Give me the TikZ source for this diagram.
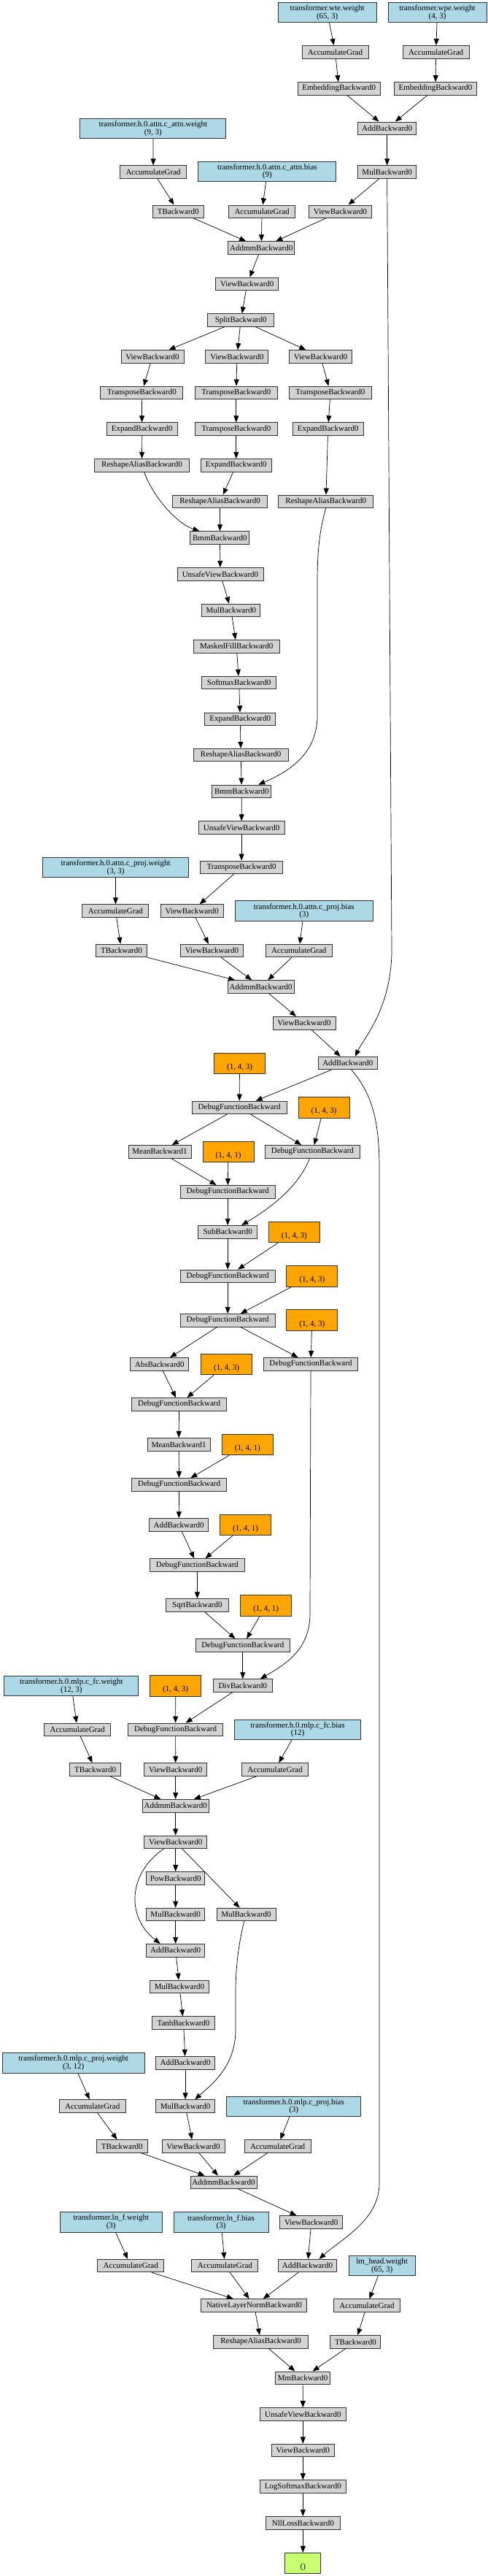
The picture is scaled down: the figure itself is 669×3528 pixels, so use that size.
\documentclass[tikz,border=0pt]{standalone}
\usepackage{fontspec}
\setmainfont{Liberation Serif}
\usepackage{xcolor}
\usepackage{tikz}
\usetikzlibrary{arrows.meta,calc}

\definecolor{opgray}{RGB}{211,211,211}
\definecolor{parblue}{RGB}{173,216,230}
\definecolor{savorange}{RGB}{255,165,0}
\definecolor{resgreen}{RGB}{202,255,112}

\begin{document}
\begin{tikzpicture}[x=1pt, y=-1pt,
    op/.style={draw=black!80, line width=0.9pt, fill=opgray, minimum height=17.5pt, inner sep=0pt, font=\fontsize{11}{10}\selectfont},
    param/.style={op, fill=parblue, minimum height=27.5pt, align=center},
    saved/.style={op, fill=savorange, minimum width=70pt, minimum height=28.5pt, align=center},
    result/.style={op, fill=resgreen, minimum width=49pt, minimum height=28pt, align=center},
    wd/.style={minimum width=#1pt},
    edge/.style={-{Triangle[length=9pt,width=7pt]}, line width=0.7pt}]
    \useasboundingbox[fill=white] (0,0) rectangle (669,3528);

    % Embeddings
    \node[param, wd=135] (wte) at (448.7,17) {transformer.wte.weight\\(65, 3)};
    \node[param, wd=135] (wpe) at (599.5,17) {transformer.wpe.weight\\(4, 3)};
    \node[op, wd=91] (accwte) at (459.5,71.3) {AccumulateGrad};
    \node[op, wd=91] (accwpe) at (597.6,71.3) {AccumulateGrad};
    \node[op, wd=113] (emba) at (464.7,121.3) {EmbeddingBackward0};
    \node[op, wd=113] (embb) at (597,121.3) {EmbeddingBackward0};
    \node[op, wd=80] (add0) at (530.7,175.7) {AddBackward0};
    \node[op, wd=80] (mul0) at (530.7,235.5) {MulBackward0};

    % Attention: c_attn
    \node[param, wd=200] (cattnw) at (209.9,175.8) {transformer.h.0.attn.c\_attn.weight\\(9, 3)};
    \node[op, wd=91] (acccattnw) at (210.1,235.5) {AccumulateGrad};
    \node[param, wd=189] (cattnb) at (366.4,235) {transformer.h.0.attn.c\_attn.bias\\(9)};
    \node[op, wd=70] (tb1) at (244.3,289.7) {TBackward0};
    \node[op, wd=91] (acccattnb) at (359.1,289.7) {AccumulateGrad};
    \node[op, wd=86] (view1) at (466.6,289.7) {ViewBackward0};
    \node[op, wd=91] (addmm1) at (358.2,339.5) {AddmmBackward0};
    \node[op, wd=86] (view2) at (338.8,388.8) {ViewBackward0};
    \node[op, wd=91] (split) at (330.2,438.5) {SplitBackward0};
    \node[op, wd=86] (viewa) at (209,488.3) {ViewBackward0};
    \node[op, wd=86] (viewb) at (324.9,488.3) {ViewBackward0};
    \node[op, wd=86] (viewc) at (439.4,488.3) {ViewBackward0};
    \node[op, wd=113] (transa) at (194.3,537.8) {TransposeBackward0};
    \node[op, wd=113] (transb) at (323.8,537.8) {TransposeBackward0};
    \node[op, wd=113] (transc) at (452.9,537.8) {TransposeBackward0};
    \node[op, wd=97] (expa) at (194.7,587.5) {ExpandBackward0};
    \node[op, wd=113] (transd) at (323.8,587.5) {TransposeBackward0};
    \node[op, wd=97] (expc) at (449.7,587.5) {ExpandBackward0};
    \node[op, wd=130] (resha) at (194.5,637.2) {ReshapeAliasBackward0};
    \node[op, wd=97] (expb) at (323.8,637.2) {ExpandBackward0};
    \node[op, wd=130] (reshb) at (301.6,686.8) {ReshapeAliasBackward0};
    \node[op, wd=130] (reshc) at (446.7,686.8) {ReshapeAliasBackward0};
    \node[op, wd=81] (bmma) at (301.4,736.5) {BmmBackward0};
    \node[op, wd=118] (unsafea) at (302,786.2) {UnsafeViewBackward0};
    \node[op, wd=80] (mul1) at (316.8,835.8) {MulBackward0};
    \node[op, wd=118] (masked) at (324.2,885.2) {MaskedFillBackward0};
    \node[op, wd=102] (softmax) at (327.6,935) {SoftmaxBackward0};
    \node[op, wd=97] (expd) at (329.3,984.7) {ExpandBackward0};
    \node[op, wd=130] (reshd) at (330.2,1034) {ReshapeAliasBackward0};
    \node[op, wd=81] (bmmb) at (331.3,1083.8) {BmmBackward0};
    \node[op, wd=118] (unsafeb) at (331.1,1133.5) {UnsafeViewBackward0};
    \node[op, wd=113] (transe) at (331.1,1187.8) {TransposeBackward0};

    % Attention: c_proj
    \node[param, wd=200] (cprojw) at (158.6,1188) {transformer.h.0.attn.c\_proj.weight\\(3, 3)};
    \node[op, wd=91] (acccprojw) at (158.4,1247.5) {AccumulateGrad};
    \node[op, wd=86] (view3) at (263.3,1247.5) {ViewBackward0};
    \node[param, wd=189] (cprojb) at (416.8,1247.5) {transformer.h.0.attn.c\_proj.bias\\(3)};
    \node[op, wd=70] (tb2) at (166.5,1302) {TBackward0};
    \node[op, wd=86] (view4) at (290.5,1302) {ViewBackward0};
    \node[op, wd=91] (acccprojb) at (409.7,1302) {AccumulateGrad};
    \node[op, wd=91] (addmm2) at (357.6,1351.5) {AddmmBackward0};
    \node[op, wd=86] (view5) at (417,1401.2) {ViewBackward0};
    \node[op, wd=81] (add1) at (476.8,1456) {AddBackward0};

    % Layer norm
    \node[saved] (sv1) at (328.5,1456.3) {\strut\\(1, 4, 3)};
    \node[op, wd=129.5] (dfb1) at (328.2,1516.8) {DebugFunctionBackward};
    \node[saved] (sv2) at (444,1516.7) {\strut\\(1, 4, 3)};
    \node[op, wd=86] (mean1) at (219,1577.2) {MeanBackward1};
    \node[saved] (sv3) at (313,1577.5) {\strut\\(1, 4, 1)};
    \node[op, wd=129.5] (dfb2) at (428.4,1577.2) {DebugFunctionBackward};
    \node[op, wd=129.5] (dfb3) at (312.2,1632.2) {DebugFunctionBackward};
    \node[op, wd=81] (sub) at (312.2,1687.2) {SubBackward0};
    \node[saved] (sv4) at (403.4,1687.5) {\strut\\(1, 4, 3)};
    \node[op, wd=129.5] (dfb4) at (312.2,1747.7) {DebugFunctionBackward};
    \node[saved] (sv5) at (427.9,1747.7) {\strut\\(1, 4, 3)};
    \node[op, wd=129.5] (dfb5) at (312.2,1808.2) {DebugFunctionBackward};
    \node[saved] (sv6) at (427.9,1808) {\strut\\(1, 4, 3)};
    \node[op, wd=80] (abs) at (218.8,1868.3) {AbsBackward0};
    \node[saved] (sv7) at (310.5,1868.5) {\strut\\(1, 4, 3)};
    \node[op, wd=129.5] (dfb6) at (426,1868.3) {DebugFunctionBackward};
    \node[op, wd=129.5] (dfb7) at (245.6,1923.3) {DebugFunctionBackward};
    \node[op, wd=86] (mean2) at (245.1,1978.3) {MeanBackward1};
    \node[saved] (sv8) at (339.4,1978.5) {\strut\\(1, 4, 1)};
    \node[op, wd=129.5] (dfb8) at (245.6,2033.3) {DebugFunctionBackward};
    \node[op, wd=81] (add2) at (245.2,2088.5) {AddBackward0};
    \node[saved] (sv9) at (336.6,2088.5) {\strut\\(1, 4, 1)};
    \node[op, wd=129.5] (dfb9) at (270.4,2143.5) {DebugFunctionBackward};
    \node[op, wd=86] (sqrt) at (270.4,2198.5) {SqrtBackward0};
    \node[saved] (sv10) at (364.6,2198.7) {\strut\\(1, 4, 1)};
    \node[op, wd=129.5] (dfb10) at (332.8,2253.5) {DebugFunctionBackward};
    \node[op, wd=81] (div) at (332.8,2308.5) {DivBackward0};

    % MLP
    \node[param, wd=184] (fcw) at (97.9,2308.8) {transformer.h.0.mlp.c\_fc.weight\\(12, 3)};
    \node[saved] (sv11) at (240.7,2308.7) {\strut\\(1, 4, 3)};
    \node[op, wd=91] (accfcw) at (106.2,2368.8) {AccumulateGrad};
    \node[op, wd=129.5] (dfb11) at (240.6,2368.8) {DebugFunctionBackward};
    \node[param, wd=173] (fcb) at (408,2368.8) {transformer.h.0.mlp.c\_fc.bias\\(12)};
    \node[op, wd=70] (tb3) at (130.6,2423.5) {TBackward0};
    \node[op, wd=86] (view6) at (240.7,2423.5) {ViewBackward0};
    \node[op, wd=91] (accfcb) at (377,2423.5) {AccumulateGrad};
    \node[op, wd=91] (addmm3) at (240.7,2473.2) {AddmmBackward0};
    \node[op, wd=86] (view7) at (240.7,2522.7) {ViewBackward0};
    \node[op, wd=80] (pow) at (240.7,2572.3) {PowBackward0};
    \node[op, wd=80] (mul2) at (240.7,2622) {MulBackward0};
    \node[op, wd=81] (mul3) at (337.5,2622) {MulBackward0};
    \node[op, wd=80] (add3) at (240.7,2671.2) {AddBackward0};
    \node[op, wd=81] (mul4) at (246,2720.8) {MulBackward0};
    \node[op, wd=86] (tanh) at (251.5,2770.5) {TanhBackward0};
    \node[op, wd=81] (add4) at (254.1,2825.2) {AddBackward0};
    \node[param, wd=194.5] (mpw) at (100.7,2825.2) {transformer.h.0.mlp.c\_proj.weight\\(3, 12)};
    \node[op, wd=91] (accmpw) at (126.7,2884.5) {AccumulateGrad};
    \node[op, wd=81] (mul5) at (254.1,2884.5) {MulBackward0};
    \node[param, wd=184] (mpb) at (402.7,2884.8) {transformer.h.0.mlp.c\_proj.bias\\(3)};
    \node[op, wd=70] (tb4) at (167.3,2939.3) {TBackward0};
    \node[op, wd=86] (view8) at (265,2939.3) {ViewBackward0};
    \node[op, wd=91] (accmpb) at (380.6,2939.3) {AccumulateGrad};
    \node[op, wd=91] (addmm4) at (306.5,2988.8) {AddmmBackward0};

    % Final layer norm and head
    \node[param, wd=140] (lnfw) at (152.2,3043.3) {transformer.ln\_f.weight\\(3)};
    \node[param, wd=130] (lnfb) at (303,3043.3) {transformer.ln\_f.bias\\(3)};
    \node[op, wd=86] (view9) at (426.8,3043.5) {ViewBackward0};
    \node[op, wd=91] (acclnfw) at (179.3,3103) {AccumulateGrad};
    \node[op, wd=91] (acclnfb) at (308.4,3103) {AccumulateGrad};
    \node[op, wd=80] (add5) at (421.5,3103) {AddBackward0};
    \node[param, wd=91] (lmw) at (523.7,3103) {lm\_head.weight\\(65, 3)};
    \node[op, wd=145] (nln) at (348.4,3157.5) {NativeLayerNormBackward0};
    \node[op, wd=91] (acclm) at (503,3157.5) {AccumulateGrad};
    \node[op, wd=130] (reshe) at (357.6,3207.2) {ReshapeAliasBackward0};
    \node[op, wd=69] (tb5) at (487.4,3207.2) {TBackward0};
    \node[op, wd=75] (mm) at (415.1,3256.7) {MmBackward0};
    \node[op, wd=118] (unsafec) at (415.3,3306.3) {UnsafeViewBackward0};
    \node[op, wd=86] (view10) at (415.3,3355.8) {ViewBackward0};
    \node[op, wd=118] (logsm) at (415.3,3405.5) {LogSoftmaxBackward0};
    \node[op, wd=102] (nll) at (415.3,3455.2) {NllLossBackward0};
    \node[result] (out) at (415.3,3510.3) {\strut\\()};

    % Edges: embeddings and attention
    \draw[edge] (wte) -- (accwte);
    \draw[edge] (wpe) -- (accwpe);
    \draw[edge] (accwte) -- (emba);
    \draw[edge] (accwpe) -- (embb);
    \draw[edge] (emba) -- (add0);
    \draw[edge] (embb) -- (add0);
    \draw[edge] (add0) -- (mul0);
    \draw[edge] (mul0) -- (view1);
    \draw[edge] (mul0.south) -- (537,1300) .. controls (537,1380) and (500,1420) .. ([xshift=10pt]add1.north);
    \draw[edge] (cattnw) -- (acccattnw);
    \draw[edge] (acccattnw) -- (tb1);
    \draw[edge] (cattnb) -- (acccattnb);
    \draw[edge] (tb1) -- (addmm1);
    \draw[edge] (acccattnb) -- (addmm1);
    \draw[edge] (view1) -- (addmm1);
    \draw[edge] (addmm1) -- (view2);
    \draw[edge] (view2) -- (split);
    \draw[edge] (split) -- (viewa);
    \draw[edge] (split) -- (viewb);
    \draw[edge] (split) -- (viewc);
    \draw[edge] (viewa) -- (transa);
    \draw[edge] (viewb) -- (transb);
    \draw[edge] (viewc) -- (transc);
    \draw[edge] (transa) -- (expa);
    \draw[edge] (transb) -- (transd);
    \draw[edge] (transc) -- (expc);
    \draw[edge] (expa) -- (resha);
    \draw[edge] (transd) -- (expb);
    \draw[edge] (expc) -- (reshc);
    \draw[edge] (expb) -- (reshb);
    \draw[edge] ([xshift=3pt]resha.south) .. controls (212,685) and (245,718) .. ([xshift=-28pt]bmma.north);
    \draw[edge] (reshb) -- (bmma);
    \draw[edge] (bmma) -- (unsafea);
    \draw[edge] (unsafea) -- (mul1);
    \draw[edge] (mul1) -- (masked);
    \draw[edge] (masked) -- (softmax);
    \draw[edge] (softmax) -- (expd);
    \draw[edge] (expd) -- (reshd);
    \draw[edge] (reshd) -- (bmmb);
    \draw[edge] (reshc.south) .. controls (437,730) and (435,760) .. (435,800) -- (435,980) .. controls (435,1030) and (400,1055) .. ([xshift=23pt]bmmb.north);
    \draw[edge] (bmmb) -- (unsafeb);
    \draw[edge] (unsafeb) -- (transe);
    \draw[edge] (transe) -- (view3);
    \draw[edge] (view3) -- (view4);
    \draw[edge] (cprojw) -- (acccprojw);
    \draw[edge] (acccprojw) -- (tb2);
    \draw[edge] (cprojb) -- (acccprojb);
    \draw[edge] (tb2) -- (addmm2);
    \draw[edge] (view4) -- (addmm2);
    \draw[edge] (acccprojb) -- (addmm2);
    \draw[edge] (addmm2) -- (view5);
    \draw[edge] (view5) -- (add1);

    % Edges: layer norm
    \draw[edge] (sv1) -- (dfb1);
    \draw[edge] (add1) -- (dfb1);
    \draw[edge] ([xshift=5pt]add1.south) .. controls (512,1500) and (520,1540) .. (520,1600) -- (520,2990) .. controls (520,3040) and (470,3065) .. ([xshift=16pt]add5.north);
    \draw[edge] (dfb1) -- (mean1);
    \draw[edge] (dfb1) -- (dfb2);
    \draw[edge] (sv2) -- (dfb2);
    \draw[edge] (mean1) -- (dfb3);
    \draw[edge] (sv3) -- (dfb3);
    \draw[edge] (dfb3) -- (sub);
    \draw[edge] ([xshift=-4pt]dfb2.south) .. controls (410,1625) and (370,1655) .. ([xshift=19pt]sub.north);
    \draw[edge] (sub) -- (dfb4);
    \draw[edge] (sv4) -- (dfb4);
    \draw[edge] (dfb4) -- (dfb5);
    \draw[edge] (sv5) -- (dfb5);
    \draw[edge] (dfb5) -- (abs);
    \draw[edge] (dfb5) -- (dfb6);
    \draw[edge] (sv6) -- (dfb6);
    \draw[edge] (abs) -- (dfb7);
    \draw[edge] (sv7) -- (dfb7);
    \draw[edge] (dfb7) -- (mean2);
    \draw[edge] (mean2) -- (dfb8);
    \draw[edge] (sv8) -- (dfb8);
    \draw[edge] (dfb8) -- (add2);
    \draw[edge] (add2) -- (dfb9);
    \draw[edge] (sv9) -- (dfb9);
    \draw[edge] (dfb9) -- (sqrt);
    \draw[edge] (sqrt) -- (dfb10);
    \draw[edge] (sv10) -- (dfb10);
    \draw[edge] (dfb10) -- (div);
    \draw[edge] (dfb6.south) -- (425,2210) .. controls (425,2260) and (390,2280) .. ([xshift=24pt]div.north);

    % Edges: MLP
    \draw[edge] (fcw) -- (accfcw);
    \draw[edge] (sv11) -- (dfb11);
    \draw[edge] (div) -- (dfb11);
    \draw[edge] (accfcw) -- (tb3);
    \draw[edge] (dfb11) -- (view6);
    \draw[edge] (fcb) -- (accfcb);
    \draw[edge] (tb3) -- (addmm3);
    \draw[edge] (view6) -- (addmm3);
    \draw[edge] (accfcb) -- (addmm3);
    \draw[edge] (addmm3) -- (view7);
    \draw[edge] (view7) -- (pow);
    \draw[edge] (view7) -- (mul3);
    \draw[edge] ([xshift=-16pt]view7.south) .. controls (176,2565) and (172,2625) .. ([xshift=-21pt]add3.north);
    \draw[edge] (pow) -- (mul2);
    \draw[edge] (mul2) -- (add3);
    \draw[edge] (add3) -- (mul4);
    \draw[edge] (mul4) -- (tanh);
    \draw[edge] (tanh) -- (add4);
    \draw[edge] (add4) -- (mul5);
    \draw[edge] ([xshift=-3pt]mul3.south) .. controls (328,2660) and (323,2690) .. (323,2730) -- (323,2780) .. controls (323,2830) and (290,2855) .. ([xshift=13pt]mul5.north);
    \draw[edge] (mpw) -- (accmpw);
    \draw[edge] (mpb) -- (accmpb);
    \draw[edge] (accmpw) -- (tb4);
    \draw[edge] (mul5) -- (view8);
    \draw[edge] (tb4) -- (addmm4);
    \draw[edge] (view8) -- (addmm4);
    \draw[edge] (accmpb) -- (addmm4);
    \draw[edge] (addmm4) -- (view9);
    \draw[edge] (view9) -- (add5);

    % Edges: head
    \draw[edge] (lnfw) -- (acclnfw);
    \draw[edge] (lnfb) -- (acclnfb);
    \draw[edge] (acclnfw) -- (nln);
    \draw[edge] (acclnfb) -- (nln);
    \draw[edge] (add5) -- (nln);
    \draw[edge] (lmw) -- (acclm);
    \draw[edge] (acclm) -- (tb5);
    \draw[edge] (nln) -- (reshe);
    \draw[edge] (reshe) -- (mm);
    \draw[edge] (tb5) -- (mm);
    \draw[edge] (mm) -- (unsafec);
    \draw[edge] (unsafec) -- (view10);
    \draw[edge] (view10) -- (logsm);
    \draw[edge] (logsm) -- (nll);
    \draw[edge] (nll) -- (out);
\end{tikzpicture}
\end{document}
